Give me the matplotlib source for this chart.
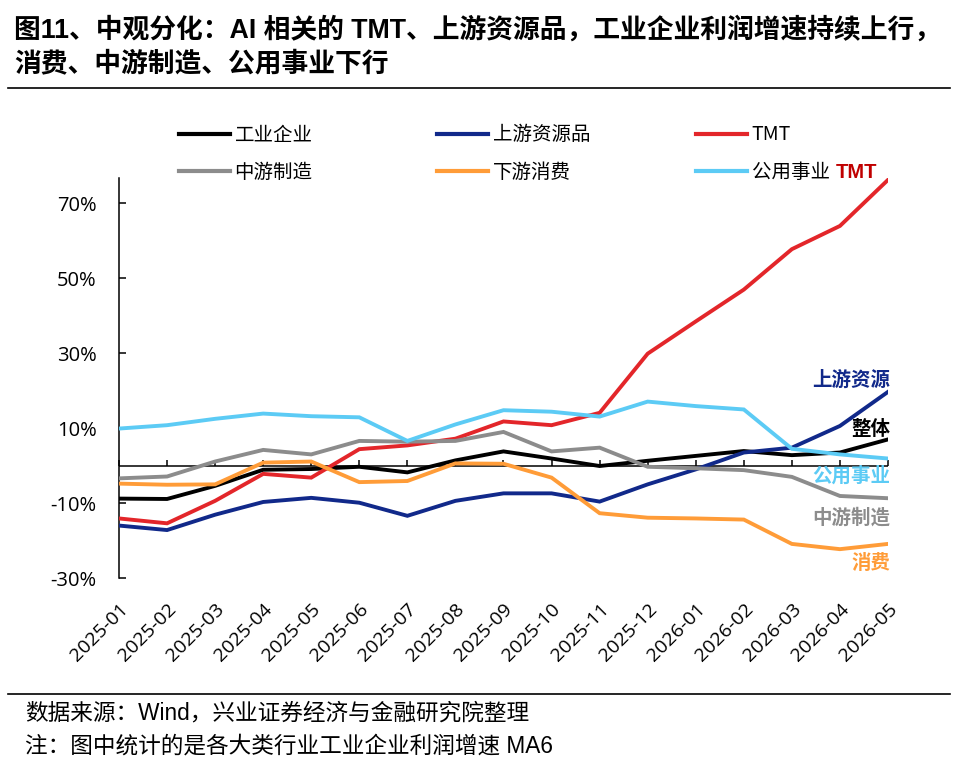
import matplotlib
matplotlib.use("Agg")
import matplotlib.pyplot as plt
from matplotlib.lines import Line2D

plt.rcParams['font.family'] = ['Open Sans', 'Noto Sans CJK SC', 'DejaVu Sans']

months = ["2025-01", "2025-02", "2025-03", "2025-04", "2025-05", "2025-06", "2025-07",
          "2025-08", "2025-09", "2025-10", "2025-11", "2025-12", "2026-01", "2026-02",
          "2026-03", "2026-04", "2026-05"]

industrial = [-8.8, -8.9, -5.4, -1.1, -0.9, -0.3, -1.8, 1.4, 3.8, 1.9, -0.1, 1.3, 2.6, 3.9, 2.8, 3.5, 7.0]
upstream = [-16.0, -17.2, -13.1, -9.7, -8.6, -9.9, -13.4, -9.4, -7.4, -7.4, -9.6, -5.0, -1.0, 3.5, 4.8, 10.6, 19.7]
tmt = [-14.1, -15.4, -9.4, -2.2, -3.2, 4.4, 5.4, 7.2, 11.8, 10.8, 14.1, 29.9, 38.5, 47.0, 57.8, 64.0, 76.3]
midstream = [-3.4, -2.9, 1.1, 4.2, 3.0, 6.6, 6.4, 6.6, 9.0, 3.8, 4.8, -0.3, -0.7, -1.2, -3.0, -8.1, -8.7]
downstream = [-4.8, -5.1, -5.0, 0.8, 1.1, -4.4, -4.1, 0.6, 0.5, -3.2, -12.7, -13.9, -14.1, -14.4, -20.9, -22.3, -20.9]
utilities = [9.9, 10.8, 12.5, 13.9, 13.2, 12.9, 6.6, 11.0, 14.8, 14.4, 13.1, 17.1, 15.9, 15.0, 4.5, 3.0, 1.9]

series_names = ["工业企业", "上游资源品", "TMT", "中游制造", "下游消费", "公用事业"]
series_values = [industrial, upstream, tmt, midstream, downstream, utilities]
series_colors = ["#000000", "#11298a", "#e3262a", "#8c8c8c", "#ff9c38", "#5ccbf5"]

end_labels = ["上游资源", "整体", "公用事业", "中游制造", "消费"]
end_label_y = [22.7, 9.6, -2.8, -14.0, -26.0]
end_label_colors = ["#11298a", "#000000", "#5ccbf5", "#8c8c8c", "#ff9c38"]

yticks = [-30, -10, 10, 30, 50, 70]

W, H = 958, 764
fig = plt.figure(figsize=(W / 100, H / 100), dpi=100)
ax = fig.add_axes([119 / W, 1 - 578 / H, (888 - 119) / W, (578 - 178) / H])

x = list(range(len(months)))
lines = []
for name, vals, col in zip(series_names, series_values, series_colors):
    ln, = ax.plot(x, vals, color=col, lw=2.8, solid_joinstyle='miter', label=name, zorder=3)
    lines.append(ln)

ymin, ymax = -30, 76.8
ax.set_xlim(0, len(months) - 1)
ax.set_ylim(ymin, ymax)
ax.axhline(0, color='black', lw=1.1, zorder=2)

for s in ['top', 'right', 'bottom']:
    ax.spines[s].set_visible(False)
ax.spines['left'].set_linewidth(1.1)

ax.set_yticks(yticks)
ax.set_yticklabels([f"{v}%" for v in yticks], fontsize=14.5, family=['Open Sans'])
ax.tick_params(axis='y', direction='in', length=5, width=1.1, pad=16)

ax.set_xticks(x)
ax.set_xticklabels(months, rotation=45, ha='right', rotation_mode='anchor',
                   fontsize=14, family=['Open Sans'])
ax.tick_params(axis='x', length=0, pad=16)

# tick marks on the zero line
sec = ax.secondary_xaxis((0 - ymin) / (ymax - ymin))
sec.set_xticks(x)
sec.set_xticklabels([])
sec.tick_params(direction='in', length=4, width=1.1)
sec.spines['bottom'].set_visible(False)

# end labels
for txt, yv, col in zip(end_labels, end_label_y, end_label_colors):
    ax.text(16.05, yv, txt, color=col, fontsize=14, fontweight='bold', ha='right', va='center',
            family=['Noto Sans CJK SC'], zorder=4)

# legend: three columns
leg_kw = dict(frameon=False, handlelength=2.6, handletextpad=0.26,
              labelspacing=0.86, borderpad=0, borderaxespad=0, loc='upper left',
              prop={'family': ['Noto Sans CJK SC'], 'size': 14})
col_x = [179, 437, 696]
for i in range(3):
    h = [lines[i], lines[i + 3]]
    lg = fig.legend(h, [l.get_label() for l in h], bbox_to_anchor=(col_x[i] / W, 1 - 124.5 / H),
                    **leg_kw)
    for lh in lg.get_lines():
        lh.set_linewidth(3)
fig.text(836 / W, 1 - 172 / H, "TMT", color="#c00000", fontsize=14.5, fontweight='bold',
         va='center', ha='left', family=['Liberation Sans'])

# title
tfam = ['Liberation Sans', 'Noto Sans CJK SC']
fig.text(14 / W, 1 - 30 / H, "图11、中观分化：AI 相关的 TMT、上游资源品，工业企业利润增速持续上行，",
         fontsize=19.3, fontweight='bold', va='center', ha='left', family=tfam)
fig.text(14 / W, 1 - 64 / H, "消费、中游制造、公用事业下行",
         fontsize=19.3, fontweight='bold', va='center', ha='left', family=tfam)
fig.add_artist(Line2D([8 / W, 950 / W], [1 - 88 / H, 1 - 88 / H], color='black', lw=1.2))
fig.add_artist(Line2D([8 / W, 950 / W], [1 - 694 / H, 1 - 694 / H], color='black', lw=1.2))

fig.text(25 / W, 1 - 713 / H, "数据来源：Wind，兴业证券经济与金融研究院整理",
         fontsize=16.3, va='center', ha='left', family=tfam)
fig.text(25 / W, 1 - 746 / H, "注：图中统计的是各大类行业工业企业利润增速 MA6",
         fontsize=16.3, va='center', ha='left', family=tfam)

fig.savefig("out.png", dpi=100)
